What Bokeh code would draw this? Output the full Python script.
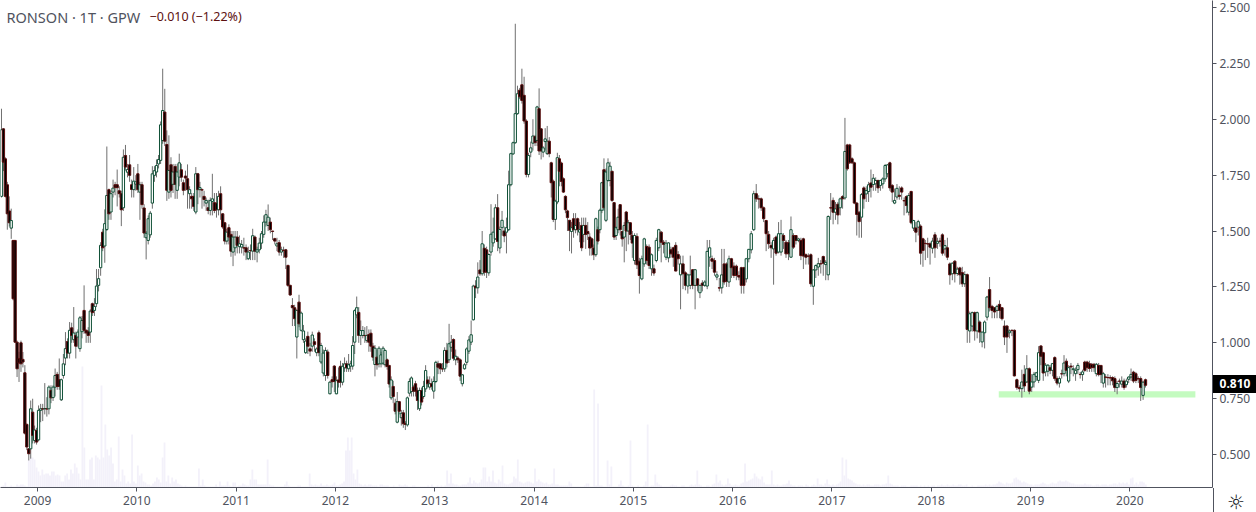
from bokeh.plotting import figure
from bokeh.embed import file_html
from bokeh.resources import INLINE
from bokeh.layouts import column
from bokeh.models import Range1d, FixedTicker, Label, CustomJSTickFormatter, ColumnDataSource, Div

title_text = "RONSON · 1T · GPW"
change_text = "−0.010 (−1.22%)"
last_price = 0.81
support_low, support_high = 0.756, 0.783
support_from, support_to = 2018.68, 2020.66
price_ticks = [0.5, 0.75, 1.0, 1.25, 1.5, 1.75, 2.0, 2.25, 2.5]
year_ticks = list(range(2009, 2021))

# weekly candles: (open, close, high, low)
y2008 = [(1.655,1.953,2.047,1.65),(1.957,1.808,1.96,1.768),(1.823,1.655,1.83,1.65),(1.707,1.577,1.72,1.506),(1.59,1.537,1.655,1.52),(1.513,1.547,1.6,1.465),(1.458,1.197,1.46,1.19),(1.458,1.003,1.46,1.0),(1.003,.884,1.01,.847),(.93,.91,.96,.825),(1.0,.906,1.01,.87),(.926,.914,.959,.89),(.866,.596,.9,.59),(.635,.534,.64,.52),(.526,.504,.53,.474),(.526,.705,.742,.482),(.69,.586,.75,.55),(.563,.61,.63,.55),(.608,.556,.62,.545)]
y2009 = [(.566,.698,.72,.56),(.698,.705,.727,.645),(.705,.704,.727,.65),(.705,.706,.82,.68),(.705,.704,.757,.67),(.705,.802,.81,.68),(.787,.754,.81,.73),(.755,.802,.81,.74),(.802,.854,.885,.76),(.859,.805,.87,.79),(.835,.805,.93,.79),(.745,.835,.84,.74),(.854,.906,.95,.84),(.932,.974,1.048,.90),(1.006,.954,1.02,.93),(.954,1.056,1.093,.93),(1.067,1.033,1.09,1.0),(1.014,1.044,1.16,1.0),(1.033,.985,1.05,.93),(1.026,1.048,1.06,.98),(.974,1.112,1.12,.96),(1.05,1.1,1.12,1.02),(1.145,1.056,1.257,1.04),(1.056,1.044,1.06,1.0),(1.052,1.033,1.07,1.0),(1.048,1.142,1.15,1.0),(1.175,1.135,1.18,1.12),(1.145,1.163,1.2,1.12),(1.175,1.254,1.33,1.16),(1.257,1.287,1.33,1.23),(1.336,1.436,1.45,1.3),(1.495,1.425,1.51,1.41),(1.433,1.533,1.597,1.358),(1.507,1.659,1.878,1.5),(1.685,1.577,1.69,1.55),(1.585,1.667,1.68,1.55),(1.674,1.692,1.73,1.65),(1.707,1.694,1.72,1.66),(1.707,1.694,1.775,1.61),(1.68,1.667,1.7,1.65),(1.667,1.595,1.68,1.522),(1.604,1.83,1.865,1.59),(1.838,1.786,1.885,1.77),(1.763,1.775,1.8,1.74),(1.796,1.749,1.84,1.72),(1.707,1.686,1.73,1.65),(1.685,1.723,1.786,1.65),(1.71,1.72,1.75,1.68)]
y2010 = [(1.756,1.685,1.8,1.67),(1.674,1.707,1.72,1.55),(1.707,1.618,1.72,1.6),(1.603,1.491,1.62,1.47),(1.47,1.49,1.5,1.373),(1.458,1.555,1.57,1.44),(1.483,1.58,1.59,1.47),(1.625,1.756,1.79,1.6),(1.749,1.77,1.79,1.72),(1.764,1.793,1.82,1.74),(1.8,1.82,1.84,1.78),(1.816,1.975,1.99,1.8),(1.905,2.039,2.226,1.89),(2.032,1.902,2.136,1.88),(1.887,1.682,1.95,1.635),(1.674,1.771,1.928,1.644),(1.796,1.682,1.83,1.65),(1.709,1.764,1.8,1.67),(1.789,1.709,1.8,1.644),(1.682,1.764,1.8,1.644),(1.741,1.805,1.846,1.7),(1.774,1.741,1.8,1.72),(1.716,1.682,1.73,1.66),(1.746,1.737,1.77,1.68),(1.734,1.685,1.798,1.6),(1.667,1.685,1.7,1.6),(1.655,1.644,1.67,1.6),(1.655,1.61,1.67,1.59),(1.585,1.756,1.786,1.575),(1.756,1.685,1.76,1.62),(1.685,1.694,1.72,1.65),(1.685,1.683,1.69,1.6),(1.655,1.641,1.68,1.61),(1.625,1.637,1.65,1.59),(1.604,1.592,1.64,1.575),(1.592,1.637,1.65,1.57),(1.632,1.644,1.756,1.57),(1.627,1.592,1.67,1.58),(1.625,1.595,1.67,1.56),(1.595,1.655,1.68,1.57),(1.667,1.595,1.7,1.55),(1.577,1.518,1.58,1.51),(1.537,1.455,1.54,1.44),(1.455,1.495,1.51,1.44),(1.515,1.473,1.53,1.44),(1.485,1.41,1.5,1.385),(1.406,1.473,1.5,1.343),(1.425,1.473,1.5,1.39)]
y2011 = [(1.473,1.436,1.5,1.4),(1.43,1.443,1.48,1.4),(1.428,1.44,1.46,1.4),(1.425,1.424,1.47,1.39),(1.425,1.406,1.44,1.37),(1.376,1.406,1.43,1.37),(1.413,1.412,1.44,1.37),(1.41,1.479,1.51,1.37),(1.473,1.41,1.48,1.37),(1.406,1.416,1.43,1.36),(1.416,1.446,1.47,1.4),(1.446,1.488,1.5,1.42),(1.485,1.54,1.57,1.47),(1.54,1.573,1.595,1.52),(1.525,1.562,1.619,1.5),(1.54,1.506,1.56,1.49),(1.5,1.498,1.5,1.46),(1.466,1.455,1.47,1.44),(1.433,1.443,1.47,1.41),(1.448,1.406,1.46,1.39),(1.406,1.416,1.43,1.39),(1.414,1.413,1.43,1.38),(1.416,1.383,1.42,1.33),(1.346,1.257,1.35,1.25),(1.257,1.214,1.26,1.21),(1.167,1.157,1.2,1.075),(1.157,1.108,1.17,1.075),(1.026,1.145,1.15,.93),(1.182,1.085,1.215,1.07),(1.056,1.133,1.14,1.05),(1.014,1.053,1.08,1.0),(.956,1.008,1.02,.95),(1.029,.985,1.05,.95),(.973,.963,1.0,.94),(.985,1.035,1.05,.96),(1.005,.993,1.02,.96),(.956,.973,.98,.94),(1.045,.956,1.055,.94),(.914,.988,1.0,.905),(.865,.954,.97,.85),(.854,.966,.98,.83),(.959,.854,.97,.84),(.772,.824,.83,.77),(.835,.826,.85,.8),(.896,.827,.9,.78)]
y2012 = [(.772,.832,.85,.77),(.834,.824,.89,.8),(.895,.824,.92,.8),(.824,.895,.91,.81),(.888,.906,.935,.87),(.906,.888,.92,.87),(.884,.902,.95,.87),(.896,.906,.92,.87),(.896,.988,1.03,.88),(1.003,1.144,1.15,.95),(1.125,1.157,1.207,1.11),(1.136,1.033,1.16,1.0),(1.033,1.055,1.1,.99),(1.033,1.055,1.075,1.02),(1.033,1.032,1.07,1.0),(1.01,1.033,1.075,1.0),(1.037,1.003,1.06,.96),(1.043,.985,1.06,.96),(.985,.936,1.0,.92),(.903,.976,.99,.85),(.936,.902,.97,.88),(.906,.976,.985,.89),(.906,.946,.96,.89),(.909,.976,.985,.9),(.902,.966,.97,.89),(.924,.894,.93,.88),(.899,.816,.9,.8),(.754,.834,.85,.745),(.805,.76,.83,.73),(.73,.694,.75,.68),(.645,.737,.78,.64),(.737,.694,.74,.68),(.665,.685,.7,.63),(.687,.638,.7,.62),(.64,.635,.65,.61),(.633,.754,.76,.625),(.775,.827,.84,.76),(.782,.843,.85,.76),(.802,.784,.81,.76),(.817,.784,.83,.76),(.787,.742,.8,.7),(.705,.787,.8,.695),(.787,.735,.8,.72),(.76,.805,.83,.75),(.794,.876,.9,.78),(.834,.817,.85,.8),(.802,.817,.85,.79),(.817,.805,.84,.79),(.784,.827,.85,.75)]
y2013 = [(.827,.913,.92,.82),(.906,.891,.92,.86),(.906,.884,.91,.86),(.884,.883,.91,.87),(.884,.966,.98,.87),(.966,.91,1.0,.89),(.924,.996,1.085,.91),(.98,1.003,1.035,.96),(1.015,.931,1.02,.92),(.924,.94,.97,.9),(.932,.924,.94,.91),(.924,.851,.93,.83),(.817,.857,.86,.805),(.884,.902,.91,.88),(.913,.973,.98,.9),(.963,1.013,1.03,.95),(1.003,1.036,1.1,.99),(1.103,1.254,1.26,1.1),(1.254,1.246,1.28,1.2),(1.246,1.294,1.36,1.22),(1.326,1.309,1.37,1.3),(1.309,1.443,1.5,1.3),(1.423,1.316,1.44,1.3),(1.416,1.316,1.43,1.29),(1.313,1.395,1.4,1.3),(1.406,1.486,1.62,1.39),(1.447,1.495,1.56,1.43),(1.465,1.604,1.62,1.46),(1.604,1.453,1.665,1.41),(1.424,1.507,1.52,1.4),(1.515,1.548,1.59,1.48),(1.5,1.478,1.52,1.45),(1.495,1.515,1.56,1.4),(1.506,1.707,1.77,1.5),(1.707,1.846,1.85,1.7),(1.845,1.895,1.9,1.84),(1.895,2.025,2.427,1.89),(2.025,2.114,2.15,2.02),(2.13,2.1,2.14,2.09),(2.154,2.084,2.226,2.07),(2.107,1.992,2.19,1.98),(1.992,1.753,2.0,1.74),(1.753,1.838,1.85,1.74),(1.853,1.872,1.9,1.83),(1.893,1.925,2.0,1.86)]
y2014 = [(1.923,1.895,1.93,1.88),(1.905,2.055,2.06,1.88),(2.047,1.858,2.138,1.84),(1.957,1.858,1.96,1.82),(1.853,1.872,1.88,1.83),(1.9,1.912,1.96,1.86),(1.846,1.902,1.97,1.84),(1.902,1.846,1.92,1.83),(1.805,1.716,1.81,1.65),(1.723,1.552,1.73,1.54),(1.552,1.634,1.64,1.505),(1.63,1.828,1.85,1.62),(1.823,1.767,1.84,1.7),(1.804,1.722,1.81,1.7),(1.734,1.674,1.74,1.67),(1.655,1.595,1.66,1.58),(1.59,1.56,1.595,1.5),(1.548,1.503,1.55,1.41),(1.498,1.515,1.54,1.4),(1.555,1.506,1.58,1.47),(1.506,1.525,1.58,1.49),(1.555,1.506,1.56,1.48),(1.495,1.506,1.54,1.45),(1.525,1.425,1.56,1.41),(1.485,1.525,1.56,1.45),(1.525,1.485,1.56,1.42),(1.498,1.488,1.54,1.46),(1.473,1.424,1.49,1.39),(1.465,1.428,1.47,1.39),(1.424,1.394,1.44,1.37),(1.394,1.555,1.56,1.385),(1.506,1.455,1.52,1.44),(1.506,1.593,1.6,1.49),(1.593,1.716,1.72,1.58),(1.774,1.604,1.825,1.59),(1.548,1.764,1.78,1.54),(1.726,1.805,1.825,1.72),(1.726,1.79,1.81,1.7),(1.767,1.637,1.77,1.63),(1.627,1.473,1.63,1.46),(1.48,1.515,1.52,1.46),(1.506,1.562,1.6,1.49),(1.618,1.506,1.62,1.48),(1.498,1.465,1.5,1.43),(1.473,1.525,1.54,1.36),(1.585,1.5,1.59,1.41),(1.5,1.537,1.55,1.44),(1.537,1.485,1.54,1.46),(1.48,1.446,1.5,1.38)]
y2015 = [(1.368,1.48,1.49,1.35),(1.476,1.349,1.49,1.33),(1.365,1.301,1.38,1.22),(1.286,1.376,1.39,1.28),(1.353,1.465,1.47,1.34),(1.431,1.368,1.44,1.35),(1.428,1.346,1.44,1.33),(1.331,1.394,1.4,1.3),(1.331,1.312,1.35,1.3),(1.368,1.458,1.47,1.36),(1.425,1.506,1.51,1.41),(1.495,1.45,1.5,1.36),(1.45,1.44,1.46,1.4),(1.383,1.446,1.46,1.37),(1.38,1.447,1.45,1.36),(1.416,1.398,1.43,1.38),(1.425,1.383,1.43,1.34),(1.436,1.321,1.45,1.32),(1.395,1.376,1.41,1.35),(1.304,1.353,1.39,1.15),(1.353,1.309,1.39,1.24),(1.313,1.257,1.32,1.235),(1.254,1.304,1.31,1.22),(1.257,1.304,1.39,1.24),(1.327,1.257,1.33,1.24),(1.257,1.327,1.33,1.15),(1.286,1.257,1.29,1.23),(1.224,1.257,1.26,1.2),(1.267,1.257,1.28,1.23),(1.257,1.272,1.28,1.25),(1.254,1.409,1.46,1.24),(1.383,1.425,1.46,1.34),(1.376,1.365,1.39,1.33),(1.368,1.316,1.38,1.3),(1.294,1.304,1.32,1.28),(1.246,1.245,1.29,1.23),(1.246,1.304,1.42,1.22),(1.353,1.272,1.42,1.26),(1.353,1.275,1.36,1.25),(1.272,1.376,1.39,1.25),(1.376,1.336,1.38,1.29)]
y2016 = [(1.343,1.301,1.36,1.29),(1.343,1.301,1.35,1.28),(1.301,1.294,1.32,1.28),(1.336,1.257,1.34,1.22),(1.336,1.257,1.34,1.22),(1.286,1.376,1.38,1.27),(1.376,1.418,1.42,1.36),(1.416,1.488,1.5,1.4),(1.506,1.667,1.68,1.5),(1.667,1.644,1.71,1.63),(1.644,1.643,1.66,1.6),(1.644,1.604,1.65,1.59),(1.604,1.555,1.61,1.54),(1.547,1.488,1.55,1.41),(1.485,1.443,1.5,1.42),(1.436,1.425,1.45,1.38),(1.42,1.458,1.47,1.26),(1.473,1.401,1.48,1.39),(1.406,1.488,1.54,1.4),(1.406,1.488,1.55,1.39),(1.48,1.458,1.49,1.42),(1.45,1.398,1.46,1.38),(1.448,1.398,1.46,1.37),(1.383,1.506,1.565,1.38),(1.48,1.428,1.49,1.42),(1.48,1.458,1.48,1.44),(1.458,1.465,1.47,1.45),(1.458,1.39,1.47,1.37),(1.465,1.388,1.47,1.33),(1.394,1.383,1.4,1.35),(1.388,1.387,1.4,1.35),(1.394,1.264,1.4,1.25),(1.253,1.326,1.33,1.17),(1.326,1.346,1.35,1.29),(1.339,1.354,1.38,1.3),(1.354,1.353,1.37,1.31),(1.386,1.356,1.39,1.3),(1.35,1.36,1.37,1.28),(1.304,1.565,1.57,1.28),(1.604,1.603,1.67,1.55)]
y2017 = [(1.637,1.584,1.65,1.53),(1.584,1.599,1.63,1.55),(1.62,1.572,1.63,1.53),(1.604,1.644,1.65,1.57),(1.654,1.644,1.66,1.6),(1.648,1.856,2.006,1.64),(1.885,1.778,1.89,1.77),(1.885,1.805,1.89,1.8),(1.823,1.805,1.83,1.8),(1.805,1.625,1.81,1.62),(1.625,1.574,1.63,1.48),(1.584,1.542,1.59,1.47),(1.562,1.663,1.67,1.47),(1.693,1.644,1.7,1.6),(1.666,1.681,1.7,1.63),(1.677,1.707,1.72,1.63),(1.715,1.696,1.775,1.65),(1.708,1.736,1.755,1.68),(1.711,1.726,1.74,1.68),(1.726,1.693,1.73,1.67),(1.704,1.726,1.73,1.68),(1.711,1.733,1.74,1.69),(1.733,1.793,1.8,1.72),(1.756,1.796,1.8,1.74),(1.805,1.693,1.81,1.68),(1.704,1.674,1.71,1.63),(1.625,1.637,1.69,1.62),(1.652,1.691,1.71,1.64),(1.66,1.655,1.7,1.64),(1.693,1.674,1.7,1.64),(1.636,1.635,1.65,1.57),(1.654,1.614,1.66,1.58),(1.584,1.659,1.67,1.57),(1.677,1.537,1.68,1.53),(1.513,1.547,1.55,1.5),(1.514,1.495,1.54,1.45),(1.517,1.542,1.55,1.48),(1.522,1.401,1.53,1.35),(1.465,1.413,1.47,1.34),(1.445,1.444,1.46,1.37),(1.443,1.442,1.47,1.38),(1.443,1.428,1.45,1.35)]
y2018 = [(1.423,1.455,1.47,1.4),(1.483,1.425,1.495,1.38),(1.445,1.454,1.47,1.42),(1.455,1.454,1.47,1.43),(1.483,1.401,1.49,1.39),(1.42,1.435,1.46,1.39),(1.425,1.383,1.47,1.37),(1.353,1.304,1.36,1.26),(1.309,1.356,1.36,1.28),(1.365,1.309,1.37,1.27),(1.31,1.33,1.34,1.3),(1.335,1.304,1.34,1.26),(1.314,1.264,1.34,1.25),(1.264,1.305,1.32,1.25),(1.305,1.06,1.31,1.0),(1.053,1.13,1.14,1.0),(1.075,1.135,1.14,1.05),(1.135,1.053,1.14,1.01),(1.053,1.135,1.14,1.02),(1.093,1.048,1.1,1.0),(1.004,1.048,1.05,.98),(1.045,1.093,1.1,.975),(1.115,1.205,1.21,1.1),(1.238,1.157,1.294,1.14),(1.163,1.145,1.17,1.11),(1.157,1.138,1.16,1.11),(1.145,1.163,1.17,1.11),(1.172,1.145,1.19,1.11),(1.157,1.108,1.16,1.1),(1.075,1.026,1.1,.99),(1.075,1.026,1.08,.955),(1.045,1.053,1.06,1.02),(1.056,1.055,1.06,1.03),(1.056,.852,1.06,.85),(.835,.8,.84,.79),(.8,.795,.81,.78),(.795,.825,.88,.755),(.859,.807,.9,.78),(.825,.884,.945,.82),(.884,.784,.89,.77)]
y2019 = [(.802,.825,.86,.78),(.825,.859,.87,.8),(.85,.866,.87,.83),(.832,.956,.985,.82),(.986,.94,.99,.9),(.956,.865,.96,.83),(.87,.9,.91,.85),(.873,.9,.905,.85),(.889,.877,.9,.86),(.877,.907,.91,.85),(.934,.84,.94,.83),(.84,.82,.85,.81),(.82,.84,.85,.8),(.862,.861,.88,.84),(.862,.91,.945,.85),(.918,.877,.93,.85),(.829,.889,.9,.82),(.896,.892,.91,.86),(.88,.884,.9,.85),(.862,.877,.89,.83),(.88,.899,.91,.86),(.859,.858,.87,.84),(.858,.87,.88,.83),(.914,.877,.92,.87),(.914,.889,.92,.87),(.907,.885,.92,.87),(.904,.889,.91,.87),(.904,.889,.91,.87),(.862,.904,.91,.85),(.899,.858,.91,.85),(.899,.858,.9,.82),(.82,.862,.87,.8),(.847,.846,.86,.8),(.845,.844,.86,.81),(.844,.843,.855,.81),(.845,.83,.85,.81),(.84,.8,.85,.78),(.8,.818,.83,.77),(.829,.828,.84,.8),(.815,.829,.85,.8),(.829,.8,.84,.79),(.813,.829,.84,.8),(.837,.847,.85,.82)]
y2020 = [(.847,.859,.885,.83),(.869,.829,.875,.82),(.862,.832,.87,.82),(.84,.839,.85,.82),(.84,.8,.85,.74),(.765,.824,.83,.745),(.835,.81,.84,.8)]

# weekly volume (thousands)
v2008 = [1,2,5,1,1,2,1,1,3,2,3,3,2,1,28,30,30,28,20]
v2009 = [16,12,18,13,14,14,12,16,16,12,13,12,6,6,12,14,8,18,14,24,20,14,8,121,40,8,8,28,30,8,32,30,28,102,30,63,38,32,40,24,6,8,51,6,18,12,4,6,4,53,6,4]
v2010 = [22,12,14,6,5,3,3,2,4,6,10,8,5,30,45,6,12,4,10,6,8,4,3,2,1,2,1,1,1,1,1,1,19,2,8,2,1,1,1,1,1,3,1,6,2,2,2,6,2,1,5,5]
v2011 = [1,2,2,4,3,2,2,8,18,8,8,3,3,3,3,3,28,3,2,2,1,1,1,1,1,3,6,2,1,1,1,1,2,2,1,1,1,1,14,3,2,3,2,2,4,2,2,3,2,2,3,5]
v2012 = [2,2,3,4,6,37,50,37,50,14,8,18,4,3,2,3,2,3,3,2,2,2,1,3,3,2,2,2,1,1,2,1,1,3,2,2,3,2,1,1,2,2,1,1,1,1,1,1,2,1,3,1]
v2013 = [1,2,1,2,1,2,17,4,14,4,3,3,2,2,3,3,3,5,10,4,7,5,4,5,8,20,20,6,11,6,17,5,4,8,6,22,4,3,3,4,5,11,9,28,6,5,4,5,6,6,5,4]
v2014 = [19,6,8,6,5,4,5,3,3,4,19,3,3,2,2,2,2,2,6,4,1,1,1,1,1,1,2,4,4,1,1,98,2,84,2,2,1,1,27,3,21,1,1,1,3,7,2,1,1,2,47,2]
v2015 = [1,1,2,1,1,2,6,63,1,2,2,13,5,3,2,1,1,1,1,2,3,2,2,1,1,2,2,1,1,2,3,2,3,17,3,2,1,1,2,2,1,3,4,13,5,7,3,2,3,9,4,2]
v2016 = [2,3,2,2,4,5,24,6,7,8,9,14,11,9,8,11,5,3,3,3,17,3,2,3,2,2,3,3,4,7,3,2,2,1,2,2,2,1,3,2,1,2,3,2,9,3,3,2,4,8,3,2]
v2017 = [3,2,3,4,6,30,12,28,9,8,7,5,4,3,3,2,3,2,3,3,2,2,3,3,3,2,3,3,4,12,4,3,2,2,2,1,2,2,2,1,1,2,2,2,2,1,2,1,2,1,2,1]
v2018 = [2,2,1,2,2,3,2,2,3,2,2,3,2,2,3,3,2,2,3,1,1,2,1,1,2,2,2,2,3,2,3,2,3,3,4,6,5,4,3,5,4,4,5,9,10,8,7,5,6,5,4,3]
v2019 = [3,2,3,3,3,4,5,4,3,3,4,5,4,4,6,7,6,6,7,6,5,4,4,3,3,3,3,3,4,3,3,3,2,2,3,3,2,3,3,3,2,3,3,4,4,3,5,4,5,4,5,3]
v2020 = [9,10,3,5,3,6,6,5,3]

candle_years = [y2008,y2009,y2010,y2011,y2012,y2013,y2014,y2015,y2016,y2017,y2018,y2019,y2020]
volume_years = [v2008,v2009,v2010,v2011,v2012,v2013,v2014,v2015,v2016,v2017,v2018,v2019,v2020]
year_starts = [2008.627] + year_ticks
year_ends = year_ticks + [2020.17]

def place(rows, a, b):
    return [a + (b - a) * (k + 0.5) / len(rows) for k in range(len(rows))]

xs, op, cl, hi, lo = [], [], [], [], []
for rows, a, b in zip(candle_years, year_starts, year_ends):
    xs += place(rows, a, b)
    for o, c, h, l in rows:
        op.append(o); cl.append(c); hi.append(h); lo.append(l)
vx, vy = [], []
for rows, a, b in zip(volume_years, year_starts, year_ends):
    vx += place(rows, a, b)
    vy += rows

FRAME_W, FRAME_H = 1212, 487
p = figure(frame_width=FRAME_W, frame_height=FRAME_H, output_backend="svg", toolbar_location=None,
           x_range=Range1d(2008.627, 2008.627 + FRAME_W / 99.3),
           y_range=Range1d(0.353, 2.531), x_axis_location="below", y_axis_location="right",
           min_border_left=0, min_border_top=0, min_border_right=0, min_border_bottom=0,
           outline_line_color=None, background_fill_color="white")
p.margin = (0, 0, 0, 0)
p.grid.visible = False

for ax, ticks in ((p.xaxis[0], year_ticks), (p.yaxis[0], price_ticks)):
    ax.ticker = FixedTicker(ticks=ticks)
    ax.axis_line_color = "#50535e"
    ax.major_tick_line_color = "#50535e"
    ax.minor_tick_line_color = None
    ax.major_tick_out = 4
    ax.major_tick_in = 0
    ax.major_label_text_color = "#50535e"
    ax.major_label_text_font = "Noto Sans"
    ax.major_label_text_font_size = "12px"
p.xaxis[0].major_label_standoff = 4
p.yaxis[0].major_label_standoff = 3
p.xaxis[0].formatter = CustomJSTickFormatter(code="return tick.toFixed(0)")
p.yaxis[0].formatter = CustomJSTickFormatter(code="return tick.toFixed(3)")

p.extra_y_ranges = {"volume": Range1d(0, FRAME_H)}
p.vbar(x=vx, top=vy, bottom=0, width=0.0185, y_range_name="volume",
       fill_color="#f3f1fa", line_color=None)

p.quad(left=[support_from], right=[support_to], top=[support_high], bottom=[support_low],
       fill_color="#c4fbc0", line_color=None)

p.segment(x0=xs, x1=xs, y0=lo, y1=hi, line_color="#6f6f6f", line_width=1)
src = ColumnDataSource(dict(x=xs, t=[max(o, c) for o, c in zip(op, cl)], b=[min(o, c) for o, c in zip(op, cl)],
                            f=["#ffffff" if c >= o else "#000000" for o, c in zip(op, cl)],
                            l=["#0f4f36" if c >= o else "#5c0f0f" for o, c in zip(op, cl)]))
p.vbar(x="x", top="t", bottom="b", width=0.023, source=src, fill_color="f", line_color="l", line_width=1)

p.add_layout(Label(x=6, y=FRAME_H - 16, x_units="screen", y_units="screen", text=title_text,
                   text_font="Noto Sans", text_font_size="14.5px", text_color="#50535e", text_baseline="middle"))
p.add_layout(Label(x=149, y=FRAME_H - 16, x_units="screen", y_units="screen", text=change_text,
                   text_font="Noto Sans", text_font_size="12.5px", text_color="#5c1010", text_baseline="middle"))

base = {"position": "absolute", "font-family": "Noto Sans", "z-index": "10"}
tag = Div(text=f"{last_price:.3f}", width=44, height=18,
          styles={**base, "left": "1208px", "top": "370px", "width": "44px", "height": "18px", "line-height": "18px",
                  "background": "black", "color": "white", "font-size": "12px", "font-weight": "bold",
                  "text-align": "center"})
gear = Div(text="☼", width=24, height=24,
           styles={**base, "left": "1219px", "top": "485px", "width": "24px", "height": "24px", "line-height": "24px",
                   "font-family": "DejaVu Sans", "color": "#131722", "font-size": "20px", "text-align": "center"})
stub = Div(text="", width=1, height=25,
           styles={**base, "left": "1208px", "top": "483px", "width": "1px", "height": "25px", "background": "#50535e"})
page = column(p, tag, gear, stub, spacing=0)

open("out.html", "w").write(file_html(page, INLINE))
